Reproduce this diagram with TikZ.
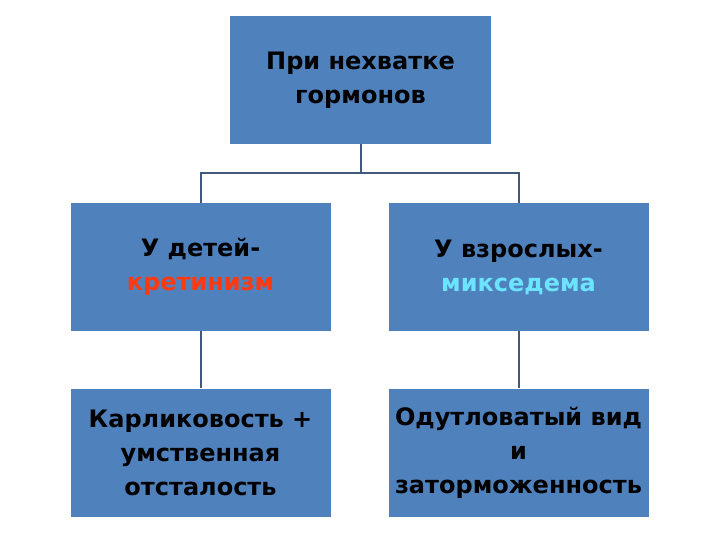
\documentclass[tikz,border=0pt]{standalone}
\usepackage{fontspec}
\setmainfont{DejaVu Sans}
\definecolor{boxblue}{HTML}{4F81BD}
\definecolor{linec}{HTML}{41597A}
\definecolor{redt}{HTML}{FF3A10}
\definecolor{cyant}{HTML}{6CE4FF}
\begin{document}
\begin{tikzpicture}[x=1pt,y=-1pt,
  box/.style={fill=boxblue, draw=none, minimum width=260pt, minimum height=128pt, inner sep=0pt, align=center, font=\fontsize{24}{34}\selectfont\bfseries, text=black},
  conn/.style={draw=linec, line width=2pt}]
\useasboundingbox (0,0) rectangle (720,540);
\node[box, minimum width=261pt] (top) at (360.5,80) {При нехватке\\гормонов};
\node[box] (ml) at (200.5,267) {У детей-\\\textcolor{redt}{кретинизм}};
\node[box] (mr) at (518.5,267) {У взрослых-\\\textcolor{cyant}{микседема}};
\node[box] (bl) at (200.5,452.5) {Карликовость +\\умственная\\отсталость};
\node[box] (br) at (518.5,452.5) {Одутловатый вид\\и\\заторможенность};
\coordinate (j) at (360.5,173);
\draw[conn] (top.south) -- (j);
\draw[conn] (j) -| (ml.north);
\draw[conn] (j) -| (mr.north);
\draw[conn] (ml.south) -- (bl.north);
\draw[conn] (mr.south) -- (br.north);
\end{tikzpicture}
\end{document}
